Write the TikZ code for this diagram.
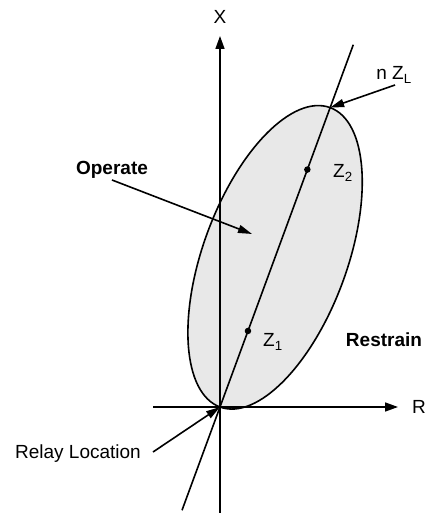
\documentclass[tikz,border=0pt]{standalone}
\usepackage{fontspec}
\setmainfont{Liberation Sans}
\usetikzlibrary{arrows.meta,positioning,calc}
\definecolor{shade}{HTML}{E8E8E8}

\begin{document}
\begin{tikzpicture}[x=1pt, y=1pt, every node/.style={font=\fontsize{19}{22}\selectfont, inner sep=1pt}]
  \tikzset{axis/.style={line width=1.6pt, -{Triangle[length=13pt, width=9pt]}},
           pointer/.style={line width=1.6pt, -{Triangle[length=14pt, width=8pt]}},
           dot/.style={circle, fill=black, inner sep=0pt, minimum size=6.5pt}}
  \useasboundingbox (-220,-106) rectangle (206,407);
  \draw[fill=shade, line width=1.6pt, shift={(69.8:159.5)}, rotate=69.8] (0,0) ellipse [x radius=159.5pt, y radius=72pt];
  \coordinate (o) at (0,0);
  \coordinate (xb) at (0,-106);
  \coordinate (xt) at (0,371);
  \coordinate (rl) at (-67,0);
  \coordinate (rt) at (178,0);
  \draw[axis] (xb) -- (xt);
  \draw[axis] (rl) -- (rt);
  \coordinate (lo) at (249.8:110);
  \coordinate (hi) at (69.8:386);
  \draw[line width=1.6pt] (lo) -- (hi);
  \coordinate (zl) at (69.8:319);
  \node[dot] (z1) at (69.8:81) {};
  \node[dot] (z2) at (69.8:253) {};
  \node (xlab) at (0,390) {X};
  \node (rlab) at (199,0) {R};
  \node[anchor=west] (z1lab) at (42,65) {Z\textsubscript{1}};
  \node[anchor=west] (z2lab) at (112,234) {Z\textsubscript{2}};
  \node (nzl) at (174,332) {n Z\textsubscript{L}};
  \node (op) at (-108,237) {\bfseries Operate};
  \node (rs) at (164,67) {\bfseries Restrain};
  \node (relay) at (-142,-47) {Relay Location};
  \coordinate (opfrom) at (-108,227);
  \coordinate (optip) at (32,173);
  \coordinate (nzlfrom) at (175,322);
  \coordinate (relayfrom) at (-67,-45);
  \draw[pointer] (opfrom) -- (optip);
  \draw[pointer] (nzlfrom) -- (zl);
  \draw[pointer] (relayfrom) -- (o);
\end{tikzpicture}
\end{document}
